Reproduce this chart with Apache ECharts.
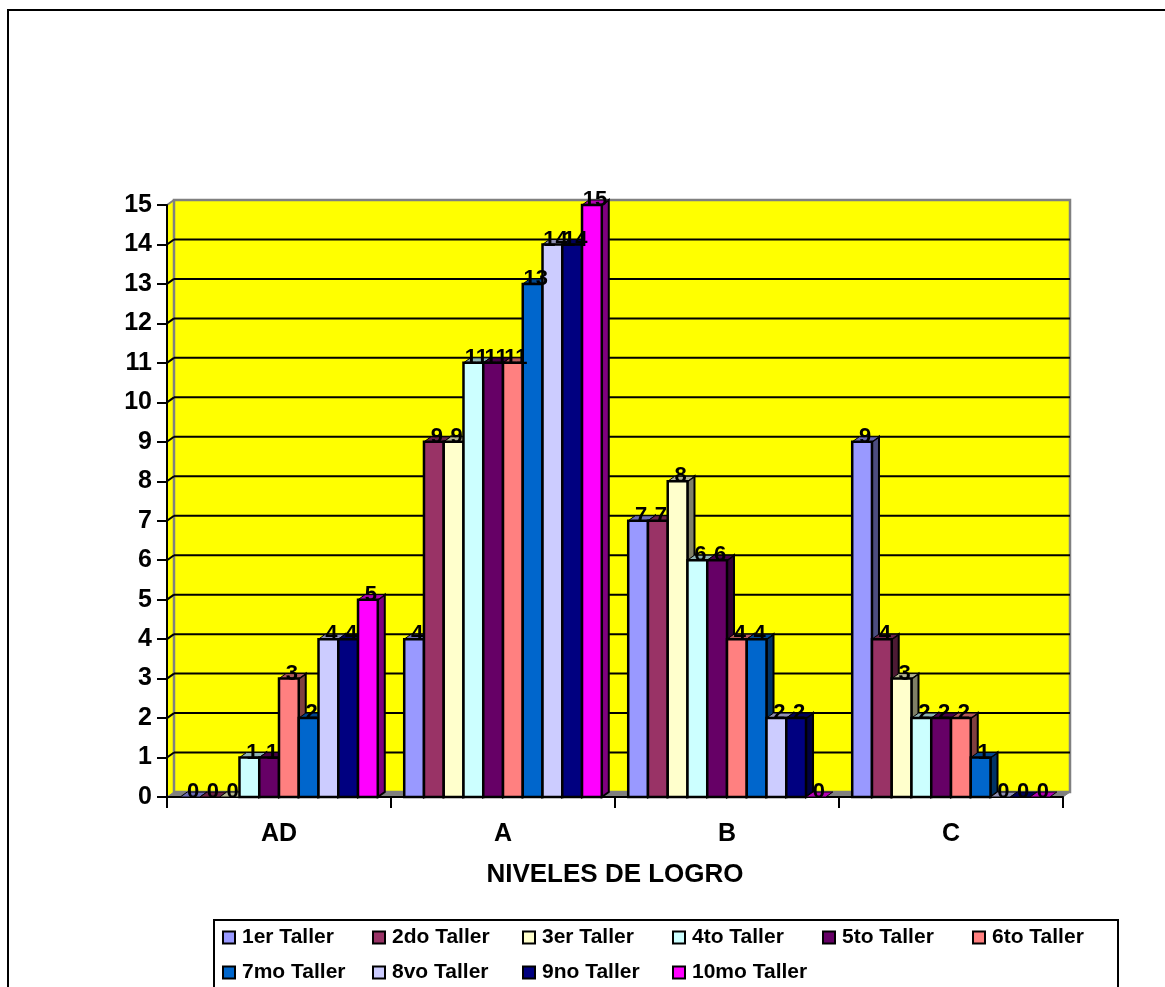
<!DOCTYPE html>
<html><head><meta charset="utf-8">
<style>html,body{margin:0;padding:0;background:#fff}#c{width:1165px;height:987px}</style>
<script src="https://cdn.jsdelivr.net/npm/echarts@6/dist/echarts.min.js"></script>
</head><body><div id="c"></div>
<script>
const categories = ['AD','A','B','C'];
const seriesNames = ['1er Taller','2do Taller','3er Taller','4to Taller','5to Taller','6to Taller','7mo Taller','8vo Taller','9no Taller','10mo Taller'];
const s1 = [0,4,7,9];
const s2 = [0,9,7,4];
const s3 = [0,9,8,3];
const s4 = [1,11,6,2];
const s5 = [1,11,6,2];
const s6 = [3,11,4,2];
const s7 = [2,13,4,1];
const s8 = [4,14,2,0];
const s9 = [4,14,2,0];
const s10 = [5,15,0,0];
const seriesValues = [s1,s2,s3,s4,s5,s6,s7,s8,s9,s10];
const colors = ['#9999FF','#993366','#FFFFCC','#CCFFFF','#660066','#FF8080','#0066CC','#CCCCFF','#000080','#FF00FF'];
const yTicks = [0,1,2,3,4,5,6,7,8,9,10,11,12,13,14,15];

const DX = 7, DY = -5, FONT = '"Liberation Sans", Arial, sans-serif';
function shade(hex, f){
  const n = parseInt(hex.slice(1),16);
  const c = [n>>16&255,n>>8&255,n&255].map(v=>Math.round(v*f));
  return `rgb(${c.join(',')})`;
}
function poly(points, fill, lw){
  return {type:'polygon', shape:{points}, style:{fill, stroke:'#000', lineWidth:lw}};
}
function barItem(si){
  return function(params, api){
    const cat = api.value(0), val = api.value(1);
    const c = api.coord([cat,val]), b = api.coord([cat,0]);
    const band = api.size([1,0])[0];
    const w = band*0.0882;
    const x0 = c[0] + (si-5)*w, x1 = x0+w, yT = c[1], yB = b[1];
    const col = colors[si];
    const kids = [
      poly([[x0,yT],[x0+DX,yT+DY],[x1+DX,yT+DY],[x1,yT]], shade(col,0.7), 1)
    ];
    if (val > 0) {
      kids.unshift(poly([[x1,yB],[x1+DX,yB+DY],[x1+DX,yT+DY],[x1,yT]], shade(col,0.5), 2));
      kids.push({type:'rect', shape:{x:x0,y:yT,width:w,height:yB-yT},
        style:{fill:col,stroke:'#000',lineWidth:2.5}});
    }
    kids.push({type:'text', z2:100, x:x0+w/2+3, y:yT-5,
        style:{text:String(val),fill:'#000',font:'bold 22px '+FONT,align:'center',verticalAlign:'middle'}});
    return {type:'group', children:kids};
  };
}
function wallItem(params, api){
  const band = api.size([1,0])[0];
  const l = api.coord([0,0])[0]-band/2, r = l+band*categories.length;
  const y0 = api.coord([0,0])[1], yT = api.coord([0,yTicks[yTicks.length-1]])[1];
  const kids = [
    {type:'polygon',shape:{points:[[l,yT],[l+DX,yT+DY],[l+DX,y0+DY],[l,y0]]},style:{fill:'#FFFF00',stroke:null}},
    {type:'rect',shape:{x:l+DX,y:yT+DY,width:r-l,height:y0-yT},style:{fill:'#FFFF00',stroke:'#808080',lineWidth:2.5}},
    {type:'polygon',shape:{points:[[l,y0],[l+DX,y0+DY],[r+DX,y0+DY],[r,y0]]},style:{fill:'#808080',stroke:'#808080',lineWidth:1}},
    {type:'line',shape:{x1:l,y1:yT,x2:l+DX,y2:yT+DY},style:{stroke:'#808080',lineWidth:2}}
  ];
  yTicks.slice(1,-1).forEach(t=>{
    const y = api.coord([0,t])[1];
    kids.push({type:'line',shape:{x1:l+DX,y1:y+DY,x2:r+DX,y2:y+DY},style:{stroke:'#000',lineWidth:2}});
    kids.push({type:'line',shape:{x1:l,y1:y,x2:l+DX,y2:y+DY},style:{stroke:'#000',lineWidth:2}});
  });
  return {type:'group',children:kids};
}
const series = [{type:'custom',name:'wall',silent:true,clip:false,z:1,renderItem:wallItem,data:[[0,0]],encode:{x:0,y:1}}];
seriesNames.forEach((n,si)=>{
  series.push({type:'custom',name:n,clip:false,z:3,silent:true,renderItem:barItem(si),
    itemStyle:{color:colors[si],borderColor:'#000',borderWidth:2},
    encode:{x:0,y:1},
    data:seriesValues[si].map((v,i)=>[i,v])});
});
const legendCols = [[0,6],[1,7],[2,8],[3,9],[4],[5]];
const legendX = [222,372,522,672,822,972];
const legends = legendCols.map((idx,k)=>({
  left:legendX[k], top:927, orient:'vertical', itemWidth:12, itemHeight:12, itemGap:14, padding:0,
  icon:'rect', selectedMode:false,
  itemStyle:{borderColor:'#000',borderWidth:2},
  textStyle:{fontFamily:FONT,fontWeight:'bold',fontSize:21,color:'#000',padding:[0,0,0,2]},
  data:idx.map(i=>seriesNames[i])
}));
const chart = echarts.init(document.getElementById('c'),null,{renderer:'canvas'});
chart.setOption({
  animation:false, backgroundColor:'#fff',
  grid:{left:167,top:205,width:896,height:592,containLabel:false},
  legend:legends,
  xAxis:{type:'category',data:categories,z:2,
    axisLine:{show:true,lineStyle:{color:'#000',width:2}},
    axisTick:{show:true,length:11,lineStyle:{color:'#000',width:2}},
    axisLabel:{color:'#000',fontFamily:FONT,fontWeight:'bold',fontSize:25,margin:25},
    name:'NIVELES DE LOGRO',nameLocation:'middle',nameGap:65,
    nameTextStyle:{color:'#000',fontFamily:FONT,fontWeight:'bold',fontSize:26}},
  yAxis:{type:'value',min:0,max:15,interval:1,z:2,
    axisLine:{show:true,lineStyle:{color:'#000',width:2}},
    axisTick:{show:true,length:10,lineStyle:{color:'#000',width:2}},
    axisLabel:{color:'#000',fontFamily:FONT,fontWeight:'bold',fontSize:25,margin:15},
    splitLine:{show:false}},
  graphic:[
    {type:'rect',silent:true,shape:{x:8,y:10,width:1300,height:1100},style:{fill:null,stroke:'#000',lineWidth:2},z:-1},
    {type:'rect',silent:true,shape:{x:214,y:920,width:904,height:90},style:{fill:null,stroke:'#000',lineWidth:2}}
  ],
  series
});
</script></body></html>
